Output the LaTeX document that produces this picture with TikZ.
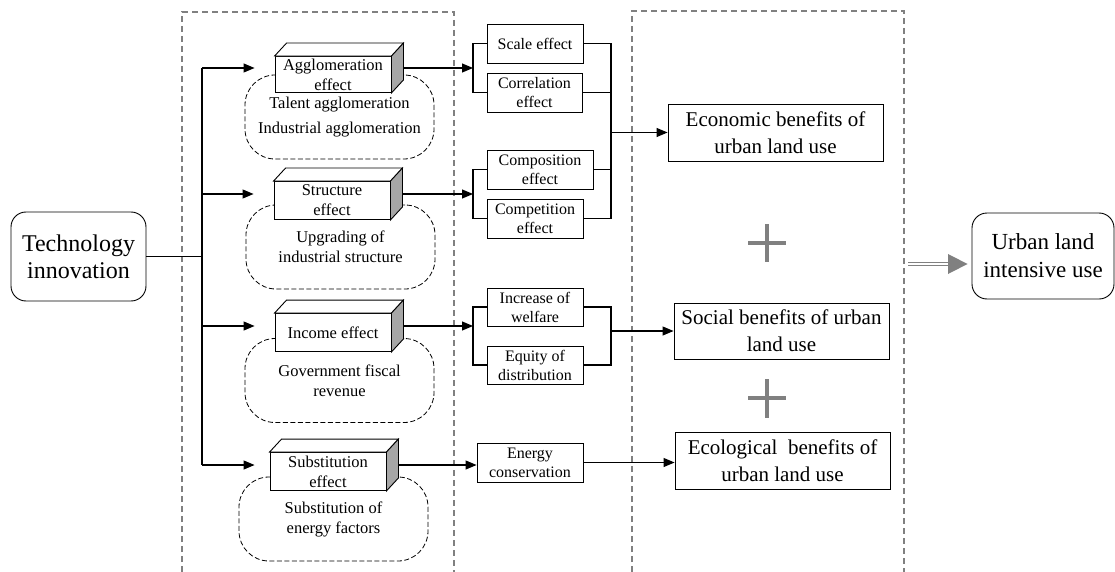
\documentclass[tikz,border=0pt]{standalone}
\usepackage{fontspec}
\setmainfont{Liberation Serif}
\usetikzlibrary{arrows.meta,calc}
\definecolor{midgray}{HTML}{808080}
\definecolor{facegray}{HTML}{A6A6A6}
\begin{document}
\begin{tikzpicture}[x=1pt,y=-1pt,
  container/.style={draw=midgray, line width=1.2pt, dash pattern=on 6pt off 4pt},
  cloudbox/.style={draw, line width=0.8pt, dash pattern=on 5pt off 2.5pt, rounded corners=30pt,
     minimum width=189pt, minimum height=84pt, inner sep=0pt, align=center,
     font=\fontsize{16.5}{20}\selectfont},
  frontbox/.style={draw, fill=white, line width=0.9pt, inner sep=0pt, align=center,
     font=\fontsize{16.5}{20}\selectfont, minimum width=116pt, minimum height=38pt},
  smallbox/.style={draw, line width=0.9pt, inner sep=0pt, align=center,
     font=\fontsize{16}{19}\selectfont, minimum height=39pt},
  bigbox/.style={draw, line width=0.9pt, inner sep=0pt, align=center,
     font=\fontsize{21}{27}\selectfont, minimum width=215pt, minimum height=57pt},
  termbox/.style={draw, line width=0.9pt, rounded corners=15pt, inner sep=0pt, align=center,
     font=\fontsize{24}{27}\selectfont},
  conn/.style={line width=1.1pt},
  arr/.style={conn, -{Triangle[length=11pt,width=9pt]}},
  plusbar/.style={draw=midgray, line width=4.5pt},
  dbl/.style={draw=midgray, line width=1.3pt, double=white, double distance=1.6pt}
]
\useasboundingbox (0,0) rectangle (1115,572);

% dashed containers
\draw[container] (182,572) -- (182,12) -- (454,12) -- (454,572);
\draw[container] (632,572) -- (632,11) -- (904,11) -- (904,572);

% terminals
\node[termbox, minimum width=135pt, minimum height=89pt] (tech) at (78.5,256.5) {Technology\\innovation};
\node[termbox, minimum width=142pt, minimum height=86pt, font=\fontsize{23}{28}\selectfont] (urban) at (1043,256) {Urban land\\intensive use};

% clouds
\node[cloudbox] (c1) at (339.5,117) {Talent agglomeration\\[5pt]Industrial agglomeration};
\node[cloudbox] (c2) at (340.5,247) {Upgrading of\\industrial structure};
\node[cloudbox] (c3) at (339.5,380.5) {Government fiscal\\revenue};
\node[cloudbox] (c4) at (333.5,519) {Substitution of\\energy factors};

% 3D effect boxes
\node[frontbox, minimum height=36pt] (ag) at (333,74.5) {Agglomeration\\effect};
\node[frontbox] (st) at (332,200.5) {Structure\\effect};
\node[frontbox] (in) at (333,332.5) {Income effect};
\node[frontbox] (su) at (328,471.5) {Substitution\\effect};
\foreach \n in {ag,st,in,su}{
  \draw[line width=0.9pt, fill=white] (\n.north west) -- ($(\n.north west)+(12,-13)$)
     -- ($(\n.north east)+(12,-13)$) -- (\n.north east) -- cycle;
  \draw[line width=0.9pt, fill=facegray] (\n.north east) -- ($(\n.north east)+(12,-13)$)
     -- ($(\n.south east)+(12,-13)$) -- (\n.south east) -- cycle;
  \coordinate (\n R) at ($(\n.east)+(12,-6.5)$);
}

% second column boxes
\node[smallbox, minimum width=96pt] (scale) at (535,43.5) {Scale effect};
\node[smallbox, minimum width=95pt] (corr) at (534.5,92.5) {Correlation\\effect};
\node[smallbox, minimum width=106pt] (compo) at (540,169.5) {Composition\\effect};
\node[smallbox, minimum width=96pt] (compe) at (535,218.5) {Competition\\effect};
\node[smallbox, minimum width=96pt, minimum height=38pt] (wel) at (535,307) {Increase of\\welfare};
\node[smallbox, minimum width=96pt, minimum height=38pt] (eq) at (535,365) {Equity of\\distribution};
\node[smallbox, minimum width=106pt] (energy) at (530,462.5) {Energy\\conservation};

% benefits
\node[bigbox] (econ) at (775.5,132.5) {Economic benefits of\\urban land use};
\node[bigbox, minimum height=56pt] (soc) at (781.5,331) {Social benefits of urban\\land use};
\node[bigbox] (eco) at (782.5,460.5) {Ecological~ benefits of\\urban land use};

% trunk from technology innovation
\coordinate (tA) at (202,0);
\draw[conn] (tech.east) -- (tech.east -| tA);
\draw[conn] (agR -| tA) -- (suR -| tA);
\foreach \n in {ag,st,in}{
  \draw[arr, shorten >=20pt] (\n R -| tA) -- (\n R -| \n.west);
}
\draw[arr, shorten >=15pt] (suR -| tA) -- (suR -| su.west);

% brackets
\coordinate (bL) at (473,0);
\coordinate (bR) at (611,0);
\draw[arr] (agR) -- (agR -| bL);
\draw[conn] (scale.west) -- (scale.west -| bL) -- (corr.west -| bL) -- (corr.west);
\draw[arr] (stR) -- (stR -| bL);
\draw[conn] (compo.west) -- (compo.west -| bL) -- (compe.west -| bL) -- (compe.west);
\draw[conn] (scale.east) -- (scale.east -| bR) -- (compe.east -| bR) -- (compe.east);
\draw[conn] (corr.east) -- (corr.east -| bR);
\draw[conn] (compo.east) -- (compo.east -| bR);
\draw[arr] (econ.west -| bR) -- (econ.west);

\draw[arr] (inR) -- (inR -| bL);
\draw[conn] (wel.west) -- (wel.west -| bL) -- (eq.west -| bL) -- (eq.west);
\draw[conn] (wel.east) -- (wel.east -| bR) -- (eq.east -| bR) -- (eq.east);
\draw[arr] (soc.west -| bR) -- (soc.west);

\draw[arr] (suR) -- (suR -| energy.west);
\draw[arr] (energy.east) -- (energy.east -| eco.west);

% plus signs
\draw[plusbar] (748,243) -- (786,243) (767,224) -- (767,262);
\draw[plusbar] (748,398) -- (786,398) (767,379) -- (767,418);

% double arrow to urban land intensive use
\coordinate (dA) at (908,264);
\coordinate (dB) at (948,264);
\draw[dbl] (dA) -- (dB);
\fill[midgray] ($(dB)+(0,-10)$) -- ($(urban.west |- dB)+(-4,0)$) -- ($(dB)+(0,10)$) -- cycle;
\end{tikzpicture}
\end{document}
